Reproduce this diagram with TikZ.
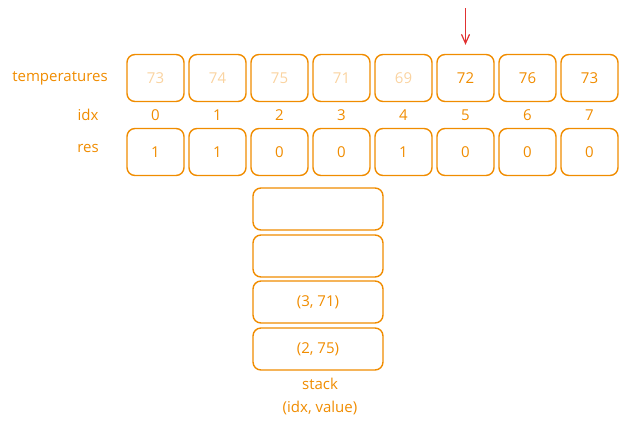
\documentclass[tikz,border=0pt]{standalone}
\usepackage{fontspec}
\setmainfont{Open Sans}
\usepackage{tikz}
\usetikzlibrary{arrows.meta}
\definecolor{xorange}{HTML}{F08C00}
\definecolor{xfade}{HTML}{FAD3A0}
\definecolor{xred}{HTML}{E03131}
\tikzset{
  cellbox/.style={draw=xorange, line width=1.4pt, rounded corners=8pt, minimum width=57pt, minimum height=47pt, inner sep=0pt, text=xorange},
  stackbox/.style={draw=xorange, line width=1.4pt, rounded corners=8pt, minimum width=130pt, minimum height=42pt, inner sep=0pt, text=xorange},
  lbl/.style={text=xorange, inner sep=1pt}
}
\newcommand{\tempcell}[4]{\node[cellbox, text=#4] (#1) at ( #2 , 78 ) {#3};}
\newcommand{\rescell}[3]{\node[cellbox] (#1) at ( #2 , 152 ) {#3};}
\newcommand{\idxlabel}[3]{\node[lbl] (#1) at ( #2 , 115 ) {#3};}

\begin{document}
\begin{tikzpicture}[x=1pt, y=-1pt, font=\fontsize{15}{18}\selectfont]
        \useasboundingbox (0,0) rectangle (628,429);
        % row labels
        \node[lbl] (temps) at (60,78) {temperatures};
        \node[lbl] (idx) at (88,115) {idx};
        \node[lbl] (res) at (88,148) {res};
        % temperatures
        \tempcell{t0}{155.5}{73}{xfade}
        \tempcell{t1}{217.5}{74}{xfade}
        \tempcell{t2}{279.5}{75}{xfade}
        \tempcell{t3}{341.5}{71}{xfade}
        \tempcell{t4}{403.5}{69}{xfade}
        \tempcell{t5}{465.5}{72}{xorange}
        \tempcell{t6}{527.5}{76}{xorange}
        \tempcell{t7}{589.5}{73}{xorange}
        % idx
        \idxlabel{i0}{155.5}{0}
        \idxlabel{i1}{217.5}{1}
        \idxlabel{i2}{279.5}{2}
        \idxlabel{i3}{341.5}{3}
        \idxlabel{i4}{403.5}{4}
        \idxlabel{i5}{465.5}{5}
        \idxlabel{i6}{527.5}{6}
        \idxlabel{i7}{589.5}{7}
        % res
        \rescell{r0}{155.5}{1}
        \rescell{r1}{217.5}{1}
        \rescell{r2}{279.5}{0}
        \rescell{r3}{341.5}{0}
        \rescell{r4}{403.5}{1}
        \rescell{r5}{465.5}{0}
        \rescell{r6}{527.5}{0}
        \rescell{r7}{589.5}{0}
        % stack
        \node[stackbox] (s3) at (318,209) {};
        \node[stackbox] (s2) at (318,256) {};
        \node[stackbox] (s1) at (318,302) {(3, 71)};
        \node[stackbox] (s0) at (318,349) {(2, 75)};
        \node[lbl] (stk) at (320,384) {stack};
        \node[lbl] (stkinfo) at (320,408) {(idx, value)};
        % pointer
        \coordinate (ptr) at (465.5,8);
        \draw[xred, line width=1.2pt, -{Straight Barb[length=9pt,width=8pt]}] (ptr) -- ([yshift=9pt]t5.north);
\end{tikzpicture}
\end{document}
